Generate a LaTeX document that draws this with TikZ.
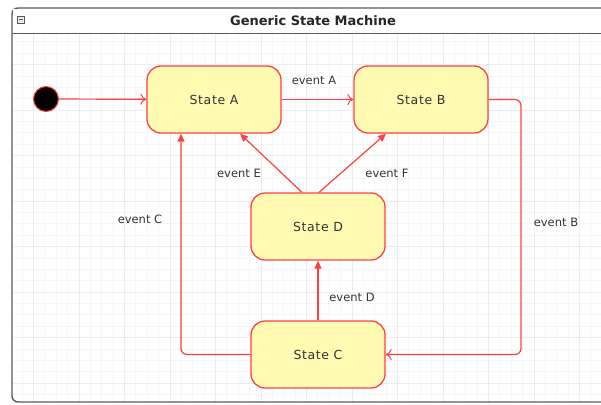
\documentclass[tikz,border=0pt]{standalone}
\usepackage{fontspec}
\setmainfont{DejaVu Sans}
\newfontfamily\statefont[LetterSpace=5]{DejaVu Sans}
\usetikzlibrary{arrows.meta}
\definecolor{txt}{HTML}{333333}
\begin{document}
\begin{tikzpicture}[x=1pt,y=-1pt,
  statebox/.style={draw=red!75!white, line width=1.3pt, fill=yellow!30, rounded corners=14pt,
    minimum width=134pt, minimum height=67pt, inner sep=0pt, text=txt, font=\statefont\fontsize{12.5}{14}\selectfont},
  trans/.style={draw=red!75!white, line width=1.2pt},
  opentip/.style={-{To[length=6pt,width=11pt,line width=1pt]}},
  filltip/.style={-{Triangle[length=8pt,width=7pt]}},
  evlabel/.style={font=\fontsize{11.5}{13}\selectfont, inner sep=0pt, text=txt}]
\useasboundingbox (0,0) rectangle (601,404);
% grid
\begin{scope}
\clip (13,34) rectangle (601,401);
\draw[gray!7, line width=0.6pt, step=11.375pt, shift={(33.3,19)}] (-30,0) grid (580,390);
\draw[gray!15, line width=0.6pt, step=45.5pt, shift={(33.3,19)}] (-30,0) grid (580,390);
\end{scope}
% frame
\draw[gray!70!black, line width=1.4pt, rounded corners=6pt] (12,402) -- (12,8) -- (620,8) -- (620,402) -- cycle;
\draw[gray!70!black, line width=1.4pt] (12,33.5) -- (601,33.5);
\fill[white] (12.7,8.7) rectangle (601,32.8);
\node[font=\bfseries\fontsize{13}{15}\selectfont, text=black!85] (title) at (313,21) {Generic State Machine};
% minus icon
\node[draw=gray!70!black, fill=gray!15, minimum size=7pt, inner sep=0pt, line width=0.6pt] (icon) at (20.5,19.5) {};
\draw[gray!70!black, line width=0.9pt] ([xshift=-2pt]icon.center) -- ([xshift=2pt]icon.center);
% nodes
\node[circle, fill=black, draw=red!75!white, line width=1pt, minimum size=25pt, inner sep=0pt] (init) at (46,99) {};
\node[statebox] (A) at (214,99.5) {State A};
\node[statebox] (B) at (421,99.5) {State B};
\node[statebox] (D) at (318,226.5) {State D};
\node[statebox] (C) at (318,354.5) {State C};
% transitions
\draw[trans, opentip] (init) -- (A);
\draw[trans, opentip] (A) -- (B);
\node[evlabel] (la) at (314,80) {event A};
\coordinate (b1) at (521,99.5);
\coordinate (b2) at (521,354.5);
\draw[trans, opentip, rounded corners=6pt] (B.east) -- (b1) -- (b2) -- (C.east);
\node[evlabel] (lb) at (556,222) {event B};
\coordinate (c1) at (181,354.5);
\draw[trans, filltip, rounded corners=6pt] (C.west) -- (c1) -- (c1 |- A.south);
\node[evlabel] (lc) at (140,219) {event C};
\draw[trans, filltip] (C.north) -- (D.south);
\node[evlabel] (ld) at (352,297) {event D};
\draw[trans, filltip] ([xshift=-16pt]D.north) -- ([xshift=26pt]A.south);
\node[evlabel] (le) at (239,173) {event E};
\draw[trans, filltip] ([xshift=1pt]D.north) -- ([xshift=-35pt]B.south);
\node[evlabel] (lf) at (387,173) {event F};
\end{tikzpicture}
\end{document}
